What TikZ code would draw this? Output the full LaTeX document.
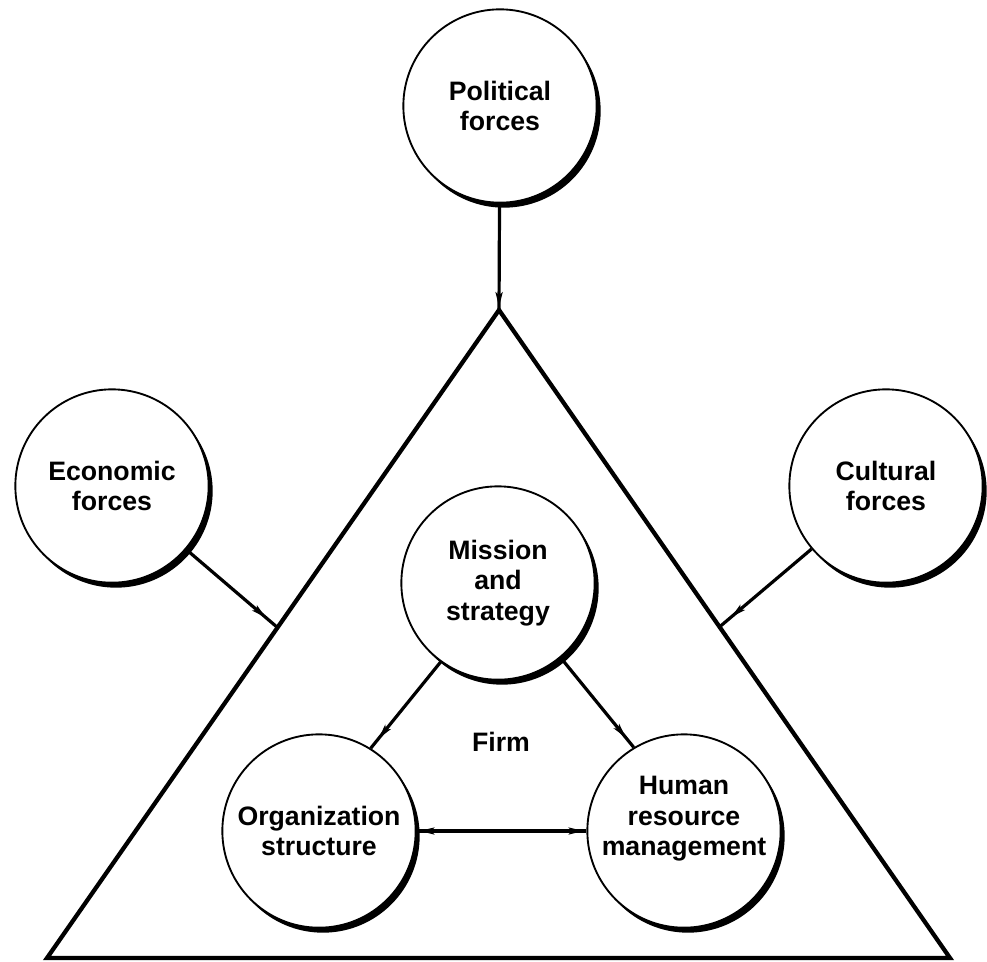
\documentclass[tikz,border=0pt]{standalone}
\usepackage{fontspec}
\setmainfont{Liberation Sans}
\usetikzlibrary{arrows.meta,shadows,decorations.markings,calc}

\begin{document}
\begin{tikzpicture}[x=0.75pt,y=-0.75pt,
  fhead/.tip={Stealth[length=11pt,width=5pt,inset=2pt]},
  label text/.style={font=\bfseries\fontsize{20}{23}\selectfont},
  force/.style={circle, draw=black, line width=1.4pt, fill=white,
    minimum size=145pt, inner sep=0pt, align=center, label text,
    drop shadow={shadow xshift=3pt, shadow yshift=-3.75pt, fill=black, opacity=1}},
  frame/.style={line width=3.2pt, line join=miter},
  link/.style={line width=2.4pt},
  headat/.style={postaction={decorate, decoration={markings,
    mark=at position #1 with {\arrow{fhead}}}}},
  tailat/.style={postaction={decorate, decoration={markings,
    mark=at position #1 with {\arrowreversed{fhead}}}}}
]
\useasboundingbox (0,0) rectangle (987,961);

% the firm: a large triangle
\coordinate (apex) at (499,310);
\coordinate (bl) at (47,958);
\coordinate (br) at (950,958);
\draw[frame] (apex) -- (bl) -- (br) -- cycle;
\coordinate (ecoEnd) at ($(apex)!0.49!(bl)$);
\coordinate (culEnd) at ($(apex)!0.489!(br)$);

% environmental forces
\node[force] (pol) at (500,106) {Political\\forces};
\node[force] (eco) at (112,486) {Economic\\forces};
\node[force] (cul) at (886,486) {Cultural\\forces};

% internal elements of the firm
\node[force] (mis) at (498,583) {Mission\\and\\strategy};
\node[force] (org) at (319,831) {Organization\\structure};
\node[force, align=none] (hrm) at (684,831)
  {\raisebox{9pt}[\height][\depth]{\begin{tabular}{@{}c@{}}Human\\resource\\management\end{tabular}}};
\node[label text] (firm) at (501,742) {Firm};

% influences
\draw[link, headat=-2pt] (pol) -- (apex);
\draw[link, headat=-11pt] (eco) -- (ecoEnd);
\draw[link, headat=-11pt] (cul) -- (culEnd);
\draw[link, headat=-9pt] (mis.234) -- (org.58);
\draw[link, headat=-9pt] (mis.-50) -- (hrm.121);
\draw[link, tailat=2pt, headat=-2pt] (org.east) -- (hrm.west);
\end{tikzpicture}
\end{document}
